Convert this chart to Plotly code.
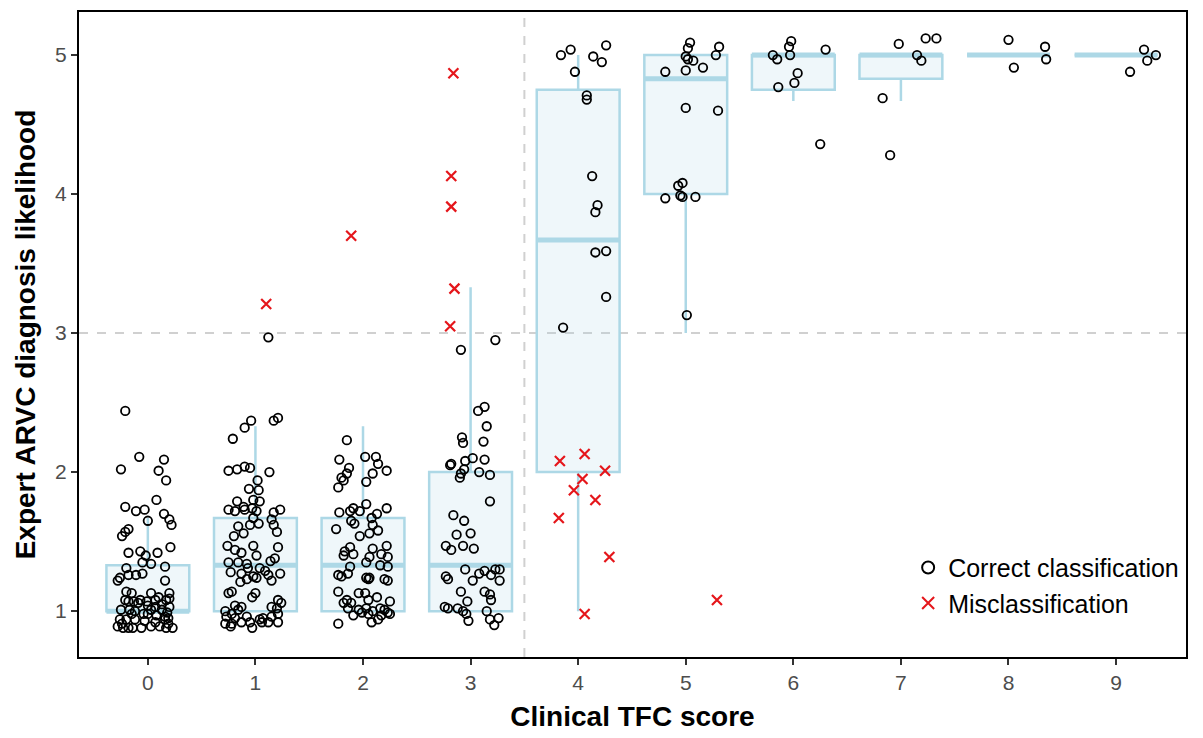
import plotly.graph_objects as go

# ---------------- data ----------------
scores = [0, 1, 2, 3, 4, 5, 6, 7, 8, 9]
box_q1 = [1, 1, 1, 1, 2.0, 4.0, 4.75, 4.83, 5, 5]
box_median = [1, 1.33, 1.33, 1.33, 3.67, 4.83, 5, 5, 5, 5]
box_q3 = [1.33, 1.67, 1.67, 2.0, 4.75, 5, 5, 5, 5, 5]
box_low = [1, 1, 1, 1, 1.0, 3.0, 4.67, 4.67, 5, 5]
box_high = [1.67, 2.33, 2.33, 3.33, 5, 5, 5, 5, 5, 5]

# correctly classified patients: jitter offset and (jittered) likelihood, per TFC score
c0_dx = [-0.21, -0.08, 0.15, -0.25, 0.10, 0.17, 0.08, -0.21, -0.11, -0.03, 0.15, 0.0, 0.20, 0.22,
         -0.18, -0.21, -0.24, -0.18, -0.07, -0.02, 0.09, 0.21, -0.05, 0.03, 0.16, -0.20, -0.26,
         -0.28, -0.18, -0.11, -0.05, 0.16,
         -0.20, -0.15, -0.07, 0.03, 0.10, 0.20, 0.20, -0.21, -0.18, -0.13, -0.09, -0.01, 0.0,
         0.07, 0.13, 0.17, 0.20, -0.25, -0.17, -0.12, 0.03, 0.13, 0.18, 0.0, 0.08, 0.16, -0.26,
         -0.20, -0.12, -0.03, 0.07, 0.16, 0.19, -0.28, -0.23, -0.18, -0.14, -0.06, 0.03, 0.11,
         0.17, 0.23, -0.24, -0.04, 0.07, -0.15, 0.19]
c0_y = [2.44, 2.11, 2.09, 2.02, 2.01, 1.94, 1.80, 1.75, 1.72, 1.73, 1.70, 1.65, 1.66, 1.62,
        1.59, 1.57, 1.54, 1.42, 1.43, 1.40, 1.42, 1.46, 1.35, 1.34, 1.32, 1.31, 1.24,
        1.22, 1.26, 1.26, 1.27, 1.22,
        1.14, 1.13, 1.08, 1.13, 1.10, 1.13, 1.09, 1.08, 1.07, 1.07, 1.06, 1.07, 1.04,
        1.03, 1.05, 1.08, 1.03, 1.01, 1.01, 1.00, 1.01, 1.01, 0.99, 0.98, 0.97, 0.96, 0.94,
        0.94, 0.94, 0.93, 0.92, 0.94, 0.91, 0.89, 0.88, 0.88, 0.88, 0.88, 0.89, 0.89,
        0.88, 0.88, 0.91, 0.98, 1.08, 0.98, 0.95]

c1_dx = [-0.04, -0.10, 0.17, 0.21, -0.21, -0.25, -0.17, -0.10, -0.05, 0.13, 0.02, -0.06, 0.03,
         -0.02, -0.17, -0.11, 0.04, -0.03, -0.25, -0.19, -0.10, 0.01, 0.23, 0.17, -0.02, -0.16,
         -0.05, 0.03, 0.15, 0.17, -0.20, -0.11, 0.20, -0.26, -0.19, -0.13, -0.02, 0.01, 0.21,
         0.14, -0.25, -0.16, -0.08, 0.18, -0.07, 0.04, 0.09, -0.23, -0.13, -0.02, 0.12, 0.23,
         -0.14, -0.08, 0.01, 0.15, -0.22, -0.25, 0.0, -0.03, 0.21, 0.24, -0.19, -0.13, 0.15,
         -0.28, -0.22, -0.16, 0.20, -0.27, -0.19, -0.08, 0.07, 0.15, 0.21, -0.28, -0.22, -0.13,
         -0.05, 0.04, 0.12, 0.21, -0.23, -0.03, 0.06, 0.12]
c1_y = [2.37, 2.32, 2.37, 2.39, 2.24, 2.01, 2.02, 2.04, 2.03, 2.00, 1.94, 1.88, 1.87,
        1.80, 1.79, 1.75, 1.79, 1.74, 1.73, 1.72, 1.73, 1.72, 1.73, 1.71, 1.67, 1.61,
        1.62, 1.63, 1.66, 1.62, 1.54, 1.56, 1.57, 1.47, 1.44, 1.42, 1.47, 1.40, 1.46,
        1.36, 1.35, 1.35, 1.34, 1.38, 1.31, 1.31, 1.29, 1.28, 1.27, 1.25, 1.26, 1.27,
        1.21, 1.23, 1.24, 1.22, 1.14, 1.13, 1.13, 1.10, 1.08, 1.06, 1.04, 1.03, 1.03,
        1.00, 0.98, 1.01, 1.02, 0.96, 0.95, 0.96, 0.95, 0.96, 0.98, 0.91, 0.91, 0.92,
        0.92, 0.94, 0.92, 0.92, 0.89, 0.88, 0.92, 2.97]

c2_dx = [-0.15, -0.22, 0.02, 0.12, -0.13, 0.14, 0.22, 0.09, -0.15, -0.20, -0.18, -0.23, 0.03,
         0.03, -0.09, 0.22, -0.22, -0.12, -0.03, 0.08, 0.13, -0.11, -0.08, 0.09, -0.25, 0.14,
         -0.03, 0.06, -0.17, -0.12, -0.09, 0.09, 0.22, 0.17, 0.23, 0.06, -0.18, 0.03, 0.16,
         0.23, -0.12, -0.23, -0.20, -0.14, 0.03, 0.05, 0.06, 0.20, 0.23, -0.23, -0.04, 0.02,
         0.13, 0.05, -0.15, -0.18, -0.11, 0.25, -0.14, -0.04, 0.03, 0.09, 0.16, 0.20, 0.23,
         -0.09, -0.01, 0.05, 0.17, 0.25, -0.23, 0.08, 0.14]
c2_y = [2.23, 2.09, 2.11, 2.11, 2.03, 2.06, 2.01, 1.99, 1.99, 1.96, 1.94, 1.89, 1.93,
        1.77, 1.74, 1.74, 1.71, 1.72, 1.72, 1.67, 1.70, 1.65, 1.63, 1.62, 1.59, 1.58,
        1.54, 1.56, 1.43, 1.46, 1.41, 1.45, 1.47, 1.41, 1.39, 1.39, 1.40, 1.35, 1.33,
        1.32, 1.32, 1.26, 1.25, 1.27, 1.24, 1.23, 1.24, 1.23, 1.22, 1.14, 1.13, 1.13,
        1.10, 1.08, 1.08, 1.06, 1.06, 1.07, 1.02, 1.01, 1.02, 1.00, 1.02, 1.01, 0.99,
        0.97, 0.99, 0.98, 0.97, 0.98, 0.91, 0.92, 0.94]

c3_dx = [0.13, 0.07, 0.15, -0.08, -0.07, 0.12, -0.19, -0.18, -0.05, 0.02, 0.13, -0.06, -0.09,
         -0.10, 0.08, 0.18, 0.18, -0.16, -0.06, -0.13, 0.00, -0.23, -0.18, -0.07, 0.03, -0.05,
         -0.23, -0.21, 0.02, 0.08, 0.13, 0.19, 0.23, 0.27, 0.27, -0.09, 0.13, 0.18, 0.19,
         -0.03, -0.24, -0.21, -0.12, -0.07, -0.04, -0.02, 0.15, 0.18, 0.22, 0.26, -0.09, 0.23]
c3_y = [2.47, 2.44, 2.33, 2.25, 2.21, 2.22, 2.05, 2.06, 2.08, 2.10, 2.09, 2.02, 1.99,
        1.96, 2.00, 1.98, 1.79, 1.69, 1.65, 1.55, 1.56, 1.47, 1.44, 1.47, 1.45, 1.30,
        1.25, 1.23, 1.22, 1.27, 1.29, 1.26, 1.30, 1.30, 1.22, 1.14, 1.14, 1.12, 1.08,
        1.07, 1.03, 1.02, 1.02, 1.00, 0.98, 0.93, 1.00, 0.94, 0.90, 0.95, 2.88, 2.95]

c4_dx = [-0.16, -0.07, 0.26, 0.14, 0.22, -0.03, 0.08, 0.08, 0.13, 0.18, 0.16, 0.16, 0.26, 0.26, -0.14]
c4_y = [5.00, 5.04, 5.07, 4.99, 4.95, 4.88, 4.71, 4.68, 4.13, 3.92, 3.87, 3.58, 3.59, 3.26, 3.04]

c5_dx = [0.04, 0.02, 0.31, 0.28, 0.00, 0.02, 0.07, 0.16, -0.19, 0.00, 0.00, 0.30, -0.03, -0.07,
         -0.05, -0.03, -0.19, 0.09, 0.01]
c5_y = [5.09, 5.05, 5.06, 5.00, 4.99, 4.97, 4.96, 4.91, 4.88, 4.89, 4.62, 4.60, 4.08, 4.06,
        3.99, 3.98, 3.97, 3.98, 3.13]

c6_dx = [-0.02, -0.04, -0.19, -0.15, -0.03, 0.30, 0.04, 0.01, -0.14, 0.25]
c6_y = [5.10, 5.06, 5.00, 4.97, 5.00, 5.04, 4.87, 4.80, 4.77, 4.36]

c7_dx = [-0.02, 0.23, 0.33, 0.15, 0.19, -0.17, -0.10]
c7_y = [5.08, 5.12, 5.12, 5.00, 4.96, 4.69, 4.28]

c8_dx = [0.00, 0.34, 0.35, 0.05]
c8_y = [5.11, 5.06, 4.97, 4.91]

c9_dx = [0.26, 0.37, 0.29, 0.13]
c9_y = [5.04, 5.00, 4.96, 4.88]

# misclassified patients
m_score = [1, 2, 3, 3, 3, 3, 3, 4, 4, 4, 4, 4, 4, 4, 4, 4, 5]
m_dx = [0.10, -0.11, -0.16, -0.18, -0.18, -0.15, -0.19, -0.17, 0.06, 0.25, 0.04, -0.04, 0.16,
        -0.18, 0.29, 0.06, 0.29]
m_y = [3.21, 3.70, 4.87, 4.13, 3.91, 3.32, 3.05, 2.08, 2.13, 2.01, 1.95, 1.87, 1.80,
       1.67, 1.39, 0.98, 1.08]

x_tick_labels = [str(s) for s in scores]
y_ticks = [1, 2, 3, 4, 5]
threshold_y = 3
threshold_x = 3.5

# ---------------- build ----------------
BOX_W = 0.77
BOX_LINE = "#ADD8E6"
BOX_FILL = "rgba(173,216,230,0.2)"
RED = "#E5161B"
FONT = "Liberation Sans"

dx_groups = [c0_dx, c1_dx, c2_dx, c3_dx, c4_dx, c5_dx, c6_dx, c7_dx, c8_dx, c9_dx]
y_groups = [c0_y, c1_y, c2_y, c3_y, c4_y, c5_y, c6_y, c7_y, c8_y, c9_y]
cx, cy = [], []
for s, dxs, ys in zip(scores, dx_groups, y_groups):
    for d, v in zip(dxs, ys):
        cx.append(s + d)
        cy.append(v)
mx = [s + d for s, d in zip(m_score, m_dx)]

fig = go.Figure()
fig.add_trace(go.Box(
    x=scores, q1=box_q1, median=box_median, q3=box_q3,
    lowerfence=box_low, upperfence=box_high,
    width=BOX_W, whiskerwidth=0, fillcolor=BOX_FILL,
    line=dict(color=BOX_LINE, width=2.5), boxpoints=False,
    showlegend=False, hoverinfo="skip"))

# thicker median segments (ggplot style)
med_x, med_y = [], []
for s, m in zip(scores, box_median):
    med_x += [s - BOX_W / 2, s + BOX_W / 2, None]
    med_y += [m, m, None]
fig.add_trace(go.Scatter(x=med_x, y=med_y, mode="lines",
                         line=dict(color=BOX_LINE, width=5),
                         showlegend=False, hoverinfo="skip"))

fig.add_trace(go.Scatter(
    x=cx, y=cy, mode="markers", name="Correct classification",
    marker=dict(symbol="circle-open", size=8.5, color="black",
                line=dict(width=1.8, color="black"))))
fig.add_trace(go.Scatter(
    x=mx, y=m_y, mode="markers", name="Misclassification",
    marker=dict(symbol="x-thin-open", size=10, color=RED,
                line=dict(width=2.2, color=RED))))

fig.add_hline(y=threshold_y, line=dict(color="#D0D0D0", width=2, dash="dash"), layer="below")
fig.add_vline(x=threshold_x, line=dict(color="#D0D0D0", width=2, dash="dash"), layer="below")

axis_common = dict(
    showgrid=False, zeroline=False, showline=True, mirror=True,
    linecolor="black", linewidth=2, ticks="outside", ticklen=6,
    tickcolor="#333333", tickwidth=1.5,
    tickfont=dict(family=FONT, size=21, color="#4D4D4D"),
)
fig.update_xaxes(range=[-0.64, 9.65], tickvals=scores, ticktext=x_tick_labels,
                 title=dict(text="Clinical TFC score", standoff=13,
                            font=dict(family=FONT, size=28, color="black", weight="bold")),
                 **axis_common)
fig.update_yaxes(range=[0.67, 5.31], tickvals=y_ticks,
                 title=dict(text="Expert ARVC diagnosis likelihood", standoff=11,
                            font=dict(family=FONT, size=28, color="black", weight="bold")),
                 **axis_common)

# page body has an 8px default margin: size figure so the plot lands where the reference has it
fig.update_layout(
    width=1195, height=730,
    margin=dict(l=71, r=17, t=2, b=81),
    plot_bgcolor="white", paper_bgcolor="white",
    font=dict(family=FONT),
    legend=dict(x=0.749, y=0.174, xanchor="left", yanchor="top",
                bgcolor="rgba(0,0,0,0)", font=dict(family=FONT, size=25, color="black"),
                itemsizing="constant", tracegroupgap=0),
)

fig.write_html("out.html")
